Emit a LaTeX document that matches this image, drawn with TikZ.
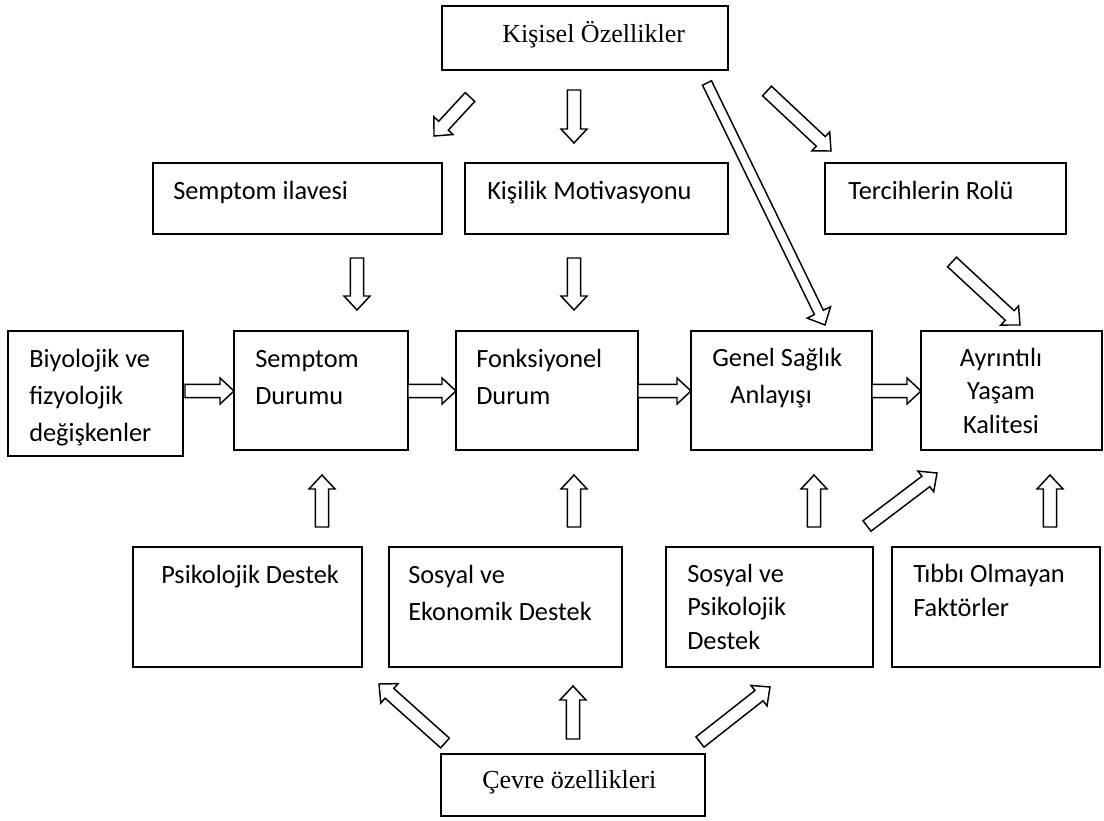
\documentclass[tikz,border=0pt]{standalone}
\usepackage{fontspec}
\setmainfont{Carlito}
\newfontfamily\timesf{Liberation Serif}
\usetikzlibrary{calc,fit}

\tikzset{
  box/.style={draw, line width=1.5pt, inner sep=0pt},
  txt/.style={inner sep=0pt, align=left, anchor=base west,
    font=\fontsize{19.75}{27.75}\selectfont},
  blockarrow/.style={draw, fill=white, line width=1.1pt, line join=miter},
}
\newcommand{\headhalf}{9.75pt}
\newcommand{\headlen}{10.5pt}
% hollow block arrow from #2 to #3, #1 = half shaft width
\newcommand{\harrow}[3][4.9pt]{%
  \draw[blockarrow] ($(#2)!#1!90:(#3)$)
    -- ($(#3)!\headlen!(#2)!#1!-90:(#2)$)
    -- ($(#3)!\headlen!(#2)!\headhalf!-90:(#2)$)
    -- (#3)
    -- ($(#3)!\headlen!(#2)!\headhalf!90:(#2)$)
    -- ($(#3)!\headlen!(#2)!#1!90:(#2)$)
    -- ($(#2)!#1!-90:(#3)$) -- cycle;}

\begin{document}
\begin{tikzpicture}[x=0.75pt,y=-0.75pt]
  \useasboundingbox (0,0) rectangle (1104,821);

  % boxes
  \node[box, fit={(442,6) (728,70)}] (kisisel) {};
  \node[box, fit={(153,163) (442,234)}] (ilave) {};
  \node[box, fit={(465,163) (728,234)}] (motiv) {};
  \node[box, fit={(825,163) (1066,234)}] (tercih) {};
  \node[box, fit={(8,331) (183,456)}] (biyo) {};
  \node[box, fit={(234,331) (408,450)}] (semptom) {};
  \node[box, fit={(456,331) (638,450)}] (fonk) {};
  \node[box, fit={(691,331) (872,450)}] (genel) {};
  \node[box, fit={(921,331) (1102,450)}] (yasam) {};
  \node[box, fit={(133,547) (362,667)}] (psiko) {};
  \node[box, fit={(389,547) (622,667)}] (ekonomik) {};
  \node[box, fit={(666,547) (873,667)}] (sospsiko) {};
  \node[box, fit={(892,547) (1100,667)}] (tibbi) {};
  \node[box, fit={(441,754) (705,816)}] (cevre) {};

  % texts (base = last line)
  \node[txt, font=\timesf\fontsize{19.5}{24}\selectfont] (kisisel-t) at (502,42) {Kişisel Özellikler};
  \node[txt] (ilave-t) at (173,199) {Semptom ilavesi};
  \node[txt] (motiv-t) at (487,199) {Kişilik Motivasyonu};
  \node[txt] (tercih-t) at (848,199) {Tercihlerin Rolü};
  \node[txt] (biyo-t) at (29,441) {Biyolojik ve\\fizyolojik\\değişkenler};
  \node[txt] (semptom-t) at (255,404) {Semptom\\Durumu};
  \node[txt] (fonk-t) at (476,404) {Fonksiyonel\\Durum};
  \node[txt] (genel-t) at (712,403) {Genel Sağlık\\\hspace*{13.5pt}Anlayışı};
  \node[txt, align=center, anchor=base,
    font=\fontsize{19.75}{25}\selectfont] (yasam-t) at (1001,433) {Ayrıntılı\\Yaşam\\Kalitesi};
  \node[txt] (psiko-t) at (161,583) {Psikolojik Destek};
  \node[txt] (ekonomik-t) at (408,620) {Sosyal ve\\Ekonomik Destek};
  \node[txt, font=\fontsize{19.75}{25}\selectfont] (sospsiko-t) at (687,649) {Sosyal ve\\Psikolojik\\Destek};
  \node[txt, font=\fontsize{19.75}{25}\selectfont] (tibbi-t) at (913,616) {Tıbbı Olmayan\\Faktörler};
  \node[txt, font=\timesf\fontsize{19.5}{24}\selectfont] (cevre-t) at (482,788) {Çevre özellikleri};

  % arrow ends
  \coordinate (k1s) at (470,97);   \coordinate (k1e) at (434,136);
  \coordinate (k2s) at (574,90);   \coordinate (k2e) at (574,143);
  \coordinate (k3s) at (707,83);   \coordinate (k3e) at (825,325);
  \coordinate (k4s) at (767,91);   \coordinate (k4e) at (831,151);
  \coordinate (i1s) at (357,258);  \coordinate (i1e) at (357,310);
  \coordinate (m1s) at (574,258);  \coordinate (m1e) at (574,310);
  \coordinate (t1s) at (952,262);  \coordinate (t1e) at (1020,325);
  \coordinate (h1s) at (185,391);  \coordinate (h1e) at (234,391);
  \coordinate (h2s) at (408,391);  \coordinate (h2e) at (456,391);
  \coordinate (h3s) at (638,391);  \coordinate (h3e) at (691,391);
  \coordinate (h4s) at (872,391);  \coordinate (h4e) at (921,391);
  \coordinate (u1s) at (322,527);  \coordinate (u1e) at (322,475);
  \coordinate (u2s) at (574,527);  \coordinate (u2e) at (574,475);
  \coordinate (u3s) at (814,527);  \coordinate (u3e) at (814,475);
  \coordinate (u4s) at (867,526);  \coordinate (u4e) at (937,473);
  \coordinate (u5s) at (1050,527); \coordinate (u5e) at (1050,475);
  \coordinate (c1s) at (445,743);  \coordinate (c1e) at (379,684);
  \coordinate (c2s) at (573,739);  \coordinate (c2e) at (573,686);
  \coordinate (c3s) at (700,742);  \coordinate (c3e) at (770,687);

  % block arrows
  \harrow{k1s}{k1e}
  \harrow{k2s}{k2e}
  \harrow[3.75pt]{k3s}{k3e}
  \harrow{k4s}{k4e}
  \harrow{i1s}{i1e}
  \harrow{m1s}{m1e}
  \harrow{t1s}{t1e}
  \harrow{h1s}{h1e}
  \harrow{h2s}{h2e}
  \harrow{h3s}{h3e}
  \harrow{h4s}{h4e}
  \harrow{u1s}{u1e}
  \harrow{u2s}{u2e}
  \harrow{u3s}{u3e}
  \harrow{u4s}{u4e}
  \harrow{u5s}{u5e}
  \harrow{c1s}{c1e}
  \harrow{c2s}{c2e}
  \harrow{c3s}{c3e}
\end{tikzpicture}
\end{document}
